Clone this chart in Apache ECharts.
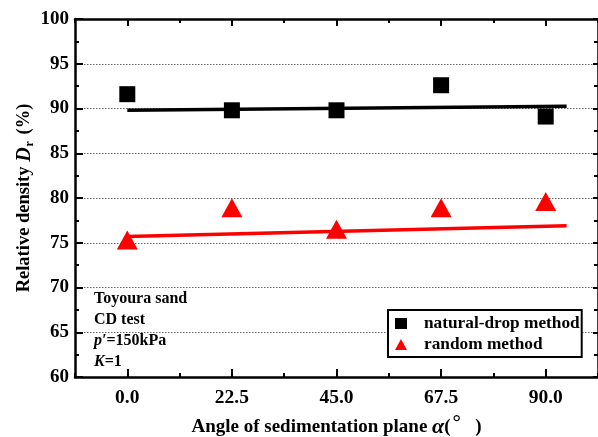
<!DOCTYPE html>
<html>
<head>
<meta charset="utf-8">
<script src="https://cdn.jsdelivr.net/npm/echarts@6/dist/echarts.min.js"></script>
<style>
  html, body { margin: 0; padding: 0; background: #fff; }
  #chart { width: 598px; height: 437px; }
</style>
</head>
<body>
<div id="chart"></div>
<script>
// Sedimentation angles (degrees) and measured relative densities (%)
const angles = [0, 22.5, 45, 67.5, 90];
const naturalDrop = [91.6, 89.8, 89.8, 92.6, 89.1];
const randomMethod = [75.3, 78.9, 76.5, 78.9, 79.6];

// Trend lines drawn through each data set
const trendX = [0, 94.5];
const naturalDropTrend = [89.8, 90.25];
const randomTrend = [75.7, 76.9];

// Axis ticks
const majorTicksX = [0, 22.5, 45, 67.5, 90];
const minorTicksX = [-11.25, 11.25, 33.75, 56.25, 78.75, 101.25];

const serif = '"Liberation Serif", "Times New Roman", serif';
const axisColor = '#000';

const pairs = (xs, ys) => xs.map((x, i) => [x, ys[i]]);

const chart = echarts.init(document.getElementById('chart'), null, { renderer: 'canvas' });

// Frame axis sharing the x range; only ticks are drawn on it
function xFrame(position, ticks, len, withLine) {
  return {
    type: 'value', min: -11.25, max: 101.25, position: position,
    splitLine: { show: false },
    axisLine: { show: withLine, onZero: false, lineStyle: { color: axisColor, width: 2.5 } },
    axisTick: { show: true, inside: true, length: len, customValues: ticks, lineStyle: { color: axisColor, width: 2 } },
    axisLabel: { show: false }
  };
}

const bottomAxis = xFrame('bottom', majorTicksX, 8, true);
bottomAxis.axisLabel = {
  show: true,
  customValues: majorTicksX,
  formatter: v => v.toFixed(1),
  margin: 11,
  fontFamily: serif, fontWeight: 'bold', fontSize: 19.5, color: '#000'
};
bottomAxis.name = '{n|Angle of sedimentation plane }{a|α}{n|(}{d|°}{n|   )}';
bottomAxis.nameLocation = 'middle';
bottomAxis.nameGap = 35;
bottomAxis.nameTextStyle = {
  rich: {
    n: { fontFamily: serif, fontWeight: 'bold', fontSize: 19, color: '#000' },
    a: { fontFamily: serif, fontWeight: 'bold', fontStyle: 'italic', fontSize: 22, color: '#000' },
    d: { fontFamily: serif, fontWeight: 'bold', fontSize: 21, color: '#000', padding: [0, 0, 7, 2] }
  }
};

chart.setOption({
  animation: false,
  backgroundColor: '#fff',
  grid: { left: 75, right: 0, top: 19, bottom: 60, show: false, outerBoundsMode: 'none', containLabel: false },
  xAxis: [
    bottomAxis,
    xFrame('bottom', minorTicksX, 4, false),
    xFrame('top', majorTicksX, 7, true),
    xFrame('top', minorTicksX, 4, false)
  ],
  yAxis: [
    {
      type: 'value', min: 60, max: 100, interval: 5, position: 'left',
      name: '{n|Relative density }{i|D}{s|r}{n| (%)}',
      nameLocation: 'middle',
      nameGap: 39,
      nameMoveOverlap: false,
      nameTextStyle: {
        rich: {
          n: { fontFamily: serif, fontWeight: 'bold', fontSize: 18.5, color: '#000' },
          i: { fontFamily: serif, fontWeight: 'bold', fontStyle: 'italic', fontSize: 20, color: '#000' },
          s: { fontFamily: serif, fontWeight: 'bold', fontSize: 12, color: '#000', padding: [11, 2, 0, 1] }
        }
      },
      axisLine: { show: true, onZero: false, lineStyle: { color: axisColor, width: 2.5 } },
      axisTick: { show: true, inside: true, length: 8, lineStyle: { color: axisColor, width: 2 } },
      minorTick: { show: true, splitNumber: 2, length: 4, lineStyle: { color: axisColor, width: 2 } },
      axisLabel: { margin: 6, fontFamily: serif, fontWeight: 'bold', fontSize: 19, color: '#000' },
      splitLine: { show: true, lineStyle: { color: '#666', type: [1.5, 1.5], width: 1 } }
    },
    {
      type: 'value', min: 60, max: 100, interval: 5, position: 'right',
      axisLine: { show: true, onZero: false, lineStyle: { color: axisColor, width: 2.5 } },
      axisTick: { show: true, inside: true, length: 5, lineStyle: { color: axisColor, width: 2 } },
      minorTick: { show: true, splitNumber: 2, length: 4, lineStyle: { color: axisColor, width: 2 } },
      axisLabel: { show: false },
      splitLine: { show: false }
    }
  ],
  legend: {
    data: [
      { name: 'natural-drop method', icon: 'rect' },
      { name: 'random method', icon: 'triangle' }
    ],
    orient: 'vertical',
    left: 388,
    top: 310,
    padding: [5, 2, 4, 7],
    itemGap: 4,
    itemWidth: 12,
    itemHeight: 11,
    borderColor: '#000',
    borderWidth: 2,
    borderRadius: 0,
    backgroundColor: '#fff',
    textStyle: { fontFamily: serif, fontWeight: 'bold', fontSize: 17.3, color: '#000', padding: [0, 0, 0, 12] }
  },
  graphic: [
    {
      type: 'text', left: 94, top: 289, silent: true,
      style: {
        text: 'Toyoura sand\nCD test\n{i|p′}=150kPa\n{i|K}=1',
        fontFamily: serif, fontWeight: 'bold', fontSize: 16, lineHeight: 20.7, fill: '#000',
        rich: {
          i: { fontFamily: serif, fontWeight: 'bold', fontStyle: 'italic', fontSize: 16, fill: '#000' }
        }
      }
    }
  ],
  series: [
    {
      name: 'natural-drop trend', type: 'line', showSymbol: false, silent: true,
      data: pairs(trendX, naturalDropTrend),
      lineStyle: { color: '#000', width: 3.5 }, z: 2
    },
    {
      name: 'random trend', type: 'line', showSymbol: false, silent: true,
      data: pairs(trendX, randomTrend),
      lineStyle: { color: '#ff0000', width: 3.5 }, z: 2
    },
    {
      name: 'natural-drop method', type: 'scatter', symbol: 'rect', symbolSize: 16,
      itemStyle: { color: '#000', opacity: 1 }, data: pairs(angles, naturalDrop), z: 3
    },
    {
      name: 'random method', type: 'scatter', symbol: 'triangle', symbolSize: [21, 19],
      itemStyle: { color: '#ff0000', opacity: 1 }, data: pairs(angles, randomMethod), z: 3
    }
  ]
});
</script>
</body>
</html>
